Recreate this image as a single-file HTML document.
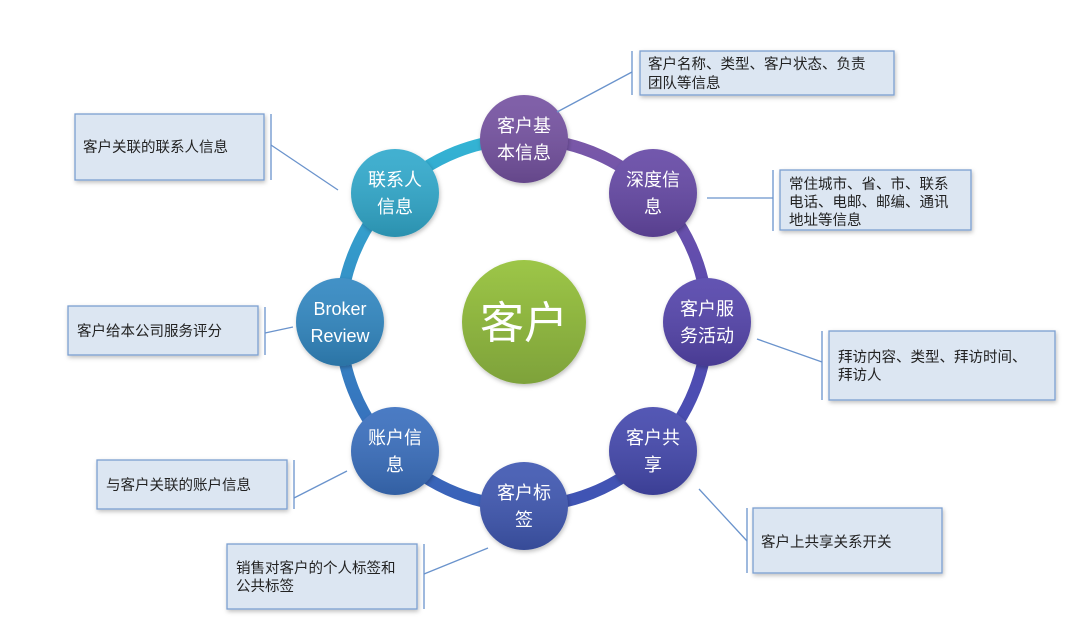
<!DOCTYPE html>
<html><head><meta charset="utf-8"><style>
html,body{margin:0;padding:0;background:#fff;width:1080px;height:626px;overflow:hidden}
svg text{font-family:"Liberation Sans","Noto Sans CJK SC",sans-serif}
</style></head><body>
<svg width="1080" height="626" viewBox="0 0 1080 626" xmlns="http://www.w3.org/2000/svg">
<defs>
<linearGradient id="ring" x1="0" y1="0" x2="0" y2="1">
<stop offset="0" stop-color="#7a58a8"/><stop offset="0.5" stop-color="#5548b0"/><stop offset="1" stop-color="#3f55b4"/>
</linearGradient>
<linearGradient id="ringL" x1="0" y1="0" x2="0" y2="1">
<stop offset="0" stop-color="#33b4d4"/><stop offset="0.5" stop-color="#3488c4"/><stop offset="1" stop-color="#3a60b8"/>
</linearGradient>
<linearGradient id="g" x1="0" y1="0" x2="0" y2="1"><stop offset="0" stop-color="#9dc647"/><stop offset="1" stop-color="#7ea23a"/></linearGradient>
<linearGradient id="shade" x1="0" y1="0" x2="0" y2="1"><stop offset="0" stop-color="#fff" stop-opacity="0.08"/><stop offset="1" stop-color="#000" stop-opacity="0.15"/></linearGradient>
<filter id="sh" x="-20%" y="-20%" width="150%" height="150%"><feDropShadow dx="1" dy="2" stdDeviation="2" flood-color="#000" flood-opacity="0.25"/></filter>
</defs>
<path d="M524 139 A183 183 0 0 1 524 506" fill="none" stroke="url(#ring)" stroke-width="12"/>
<path d="M524 506 A183 183 0 0 1 524 139" fill="none" stroke="url(#ringL)" stroke-width="12"/>
<g filter="url(#sh)">
<circle cx="524" cy="322" r="62" fill="url(#g)"/>
<circle cx="524" cy="139" r="44" fill="#7652a2"/>
<circle cx="653" cy="193" r="44" fill="#6649a6"/>
<circle cx="707" cy="322" r="44" fill="#5545ac"/>
<circle cx="653" cy="451" r="44" fill="#4548ae"/>
<circle cx="524" cy="506" r="44" fill="#3f58b2"/>
<circle cx="395" cy="451" r="44" fill="#3a70bf"/>
<circle cx="340" cy="322" r="44" fill="#3388c2"/>
<circle cx="395" cy="193" r="44" fill="#31aacd"/>
</g>
<g fill="url(#shade)">
<circle cx="524" cy="139" r="44"/><circle cx="653" cy="193" r="44"/><circle cx="707" cy="322" r="44"/><circle cx="653" cy="451" r="44"/>
<circle cx="524" cy="506" r="44"/><circle cx="395" cy="451" r="44"/><circle cx="340" cy="322" r="44"/><circle cx="395" cy="193" r="44"/>
</g>
<text x="524" y="338" fill="#fff" font-size="44" text-anchor="middle">客户</text>
<g fill="#fff" font-size="18" text-anchor="middle">
<text x="524" y="132">客户基</text><text x="524" y="159">本信息</text>
<text x="653" y="186">深度信</text><text x="653" y="213">息</text>
<text x="707" y="315">客户服</text><text x="707" y="342">务活动</text>
<text x="653" y="444">客户共</text><text x="653" y="471">享</text>
<text x="524" y="499">客户标</text><text x="524" y="526">签</text>
<text x="395" y="444">账户信</text><text x="395" y="471">息</text>
<text x="340" y="315">Broker</text><text x="340" y="342">Review</text>
<text x="395" y="186">联系人</text><text x="395" y="213">信息</text>
</g>
<g stroke="#6a93cc" stroke-width="1.3" fill="none">
<line x1="557" y1="112" x2="632" y2="72"/><line x1="632" y1="51" x2="632" y2="95"/>
<line x1="707" y1="198" x2="773" y2="198"/><line x1="773" y1="170" x2="773" y2="231"/>
<line x1="757" y1="339" x2="822" y2="362"/><line x1="822" y1="331" x2="822" y2="400"/>
<line x1="699" y1="489" x2="747" y2="541"/><line x1="747" y1="508" x2="747" y2="573"/>
<line x1="488" y1="548" x2="424" y2="574"/><line x1="424" y1="544" x2="424" y2="609"/>
<line x1="347" y1="471" x2="294" y2="498"/><line x1="294" y1="460" x2="294" y2="509"/>
<line x1="293" y1="327" x2="265" y2="333"/><line x1="265" y1="307" x2="265" y2="355"/>
<line x1="338" y1="190" x2="271" y2="145"/><line x1="271" y1="114" x2="271" y2="180"/>
</g>
<g fill="#dce6f2" stroke="#7b9fd0" stroke-width="1.3" filter="url(#sh)">
<rect x="640" y="51" width="254" height="44"/>
<rect x="780" y="170" width="191" height="60"/>
<rect x="829" y="331" width="226" height="69"/>
<rect x="753" y="508" width="189" height="65"/>
<rect x="227" y="544" width="190" height="65"/>
<rect x="97" y="460" width="190" height="49"/>
<rect x="68" y="306" width="190" height="49"/>
<rect x="75" y="114" width="189" height="66"/>
</g>
<g fill="#222" font-size="14.5">
<text x="648" y="69">客户名称、类型、客户状态、负责</text><text x="648" y="88">团队等信息</text>
<text x="789" y="189">常住城市、省、市、联系</text><text x="789" y="207">电话、电邮、邮编、通讯</text><text x="789" y="225">地址等信息</text>
<text x="838" y="362">拜访内容、类型、拜访时间、</text><text x="838" y="380">拜访人</text>
<text x="761" y="547">客户上共享关系开关</text>
<text x="236" y="573">销售对客户的个人标签和</text><text x="236" y="591">公共标签</text>
<text x="106" y="490">与客户关联的账户信息</text>
<text x="77" y="336">客户给本公司服务评分</text>
<text x="83" y="152">客户关联的联系人信息</text>
</g>
</svg>
</body></html>
